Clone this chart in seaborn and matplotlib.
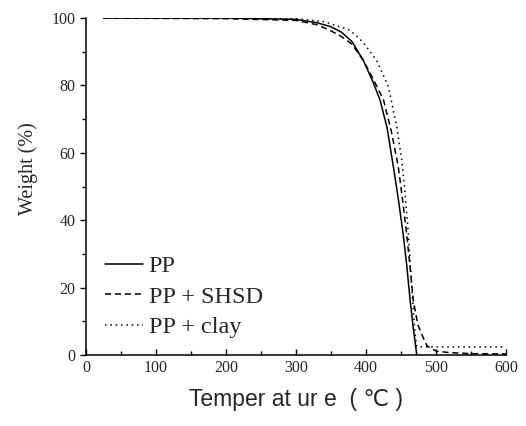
import numpy as np
import pandas as pd
import matplotlib
matplotlib.use("Agg")
import matplotlib.pyplot as plt
from matplotlib.ticker import MultipleLocator
import seaborn as sns

# TGA curves
temp_pp = [25, 100, 200, 300, 330, 350, 365, 380, 396, 410, 420, 430, 439, 446,
           453, 458, 463, 467.5, 471, 472.5]
weight_pp = [100, 100, 100, 99.6, 98.6, 97.4, 95.8, 93.0, 87.5, 81.0, 75.7, 67.5,
             56.0, 46.5, 36.0, 27.0, 16.3, 8.0, 2.5, 0.0]

temp_shsd = [25, 100, 200, 300, 330, 350, 365, 380, 396, 410, 425, 436, 446, 452,
             458, 463, 467.5, 474, 482, 487, 492, 501, 520, 550, 600]
weight_shsd = [100, 99.9, 99.8, 99.3, 98.0, 96.2, 94.5, 92.2, 87.5, 82.0, 75.7,
               66.5, 56.0, 46.5, 36.0, 26.0, 16.3, 9.0, 5.0, 2.8, 2.0, 1.1, 0.7,
               0.4, 0.3]

temp_clay = [25, 100, 200, 300, 340, 363, 377, 395, 415, 432, 444, 451, 455,
             460.5, 465, 470, 472.4, 480, 550, 595]
weight_clay = [100, 100, 100, 99.8, 98.9, 97.4, 96.4, 93.0, 87.5, 79.6, 67.7,
               57.9, 50.0, 36.0, 21.0, 6.5, 2.5, 2.4, 2.4, 2.4]

labels = ["PP", "PP + SHSD", "PP + clay"]

df = pd.concat([
    pd.DataFrame({"T": temp_pp, "W": weight_pp, "sample": labels[0]}),
    pd.DataFrame({"T": temp_shsd, "W": weight_shsd, "sample": labels[1]}),
    pd.DataFrame({"T": temp_clay, "W": weight_clay, "sample": labels[2]}),
], ignore_index=True)

sns.set_style("ticks")
plt.rcParams["font.family"] = ["Liberation Serif", "DejaVu Serif"]

fig = plt.figure(figsize=(5.26, 4.26), dpi=100)
ax = fig.add_axes([0.1635, 0.1667, 0.7985, 0.791])

sns.lineplot(data=df, x="T", y="W", style="sample", hue="sample",
             palette={l: "black" for l in labels},
             dashes={"PP": "", "PP + SHSD": (4, 2.5), "PP + clay": (1, 2.5)},
             sort=False, estimator=None, linewidth=1.1, ax=ax)

ax.set_xlim(0, 600)
ax.set_ylim(0, 100)
ax.xaxis.set_major_locator(MultipleLocator(100))
ax.xaxis.set_minor_locator(MultipleLocator(50))
ax.yaxis.set_major_locator(MultipleLocator(20))
ax.yaxis.set_minor_locator(MultipleLocator(10))
ax.tick_params(axis="both", which="major", labelsize=11.5, width=1, color="black")
ax.tick_params(axis="both", which="minor", width=1, color="black")
ax.tick_params(axis="x", which="major", direction="in", length=4)
ax.tick_params(axis="x", which="minor", direction="in", length=3)
ax.tick_params(axis="y", which="major", direction="out", length=4)
ax.tick_params(axis="y", which="minor", direction="out", length=3)
for s in ["top", "right"]:
    ax.spines[s].set_visible(False)
for s in ["left", "bottom"]:
    ax.spines[s].set_color("black")
    ax.spines[s].set_linewidth(1.1)

ax.set_ylabel("Weight (%)", fontsize=14.5)
ax.yaxis.set_label_coords(-0.115, 0.552)
ax.set_xlabel("Temper at ur e  ( ℃ )", fontsize=16.5, labelpad=9,
              family=["Liberation Sans", "DejaVu Sans"])

leg = ax.legend(loc="lower left", bbox_to_anchor=(0.045, 0.05), frameon=False,
                fontsize=17.5, handlelength=1.55, handletextpad=0.25,
                labelspacing=0.35, borderaxespad=0, borderpad=0)
leg.set_title(None)

fig.savefig("out.png", dpi=100)
